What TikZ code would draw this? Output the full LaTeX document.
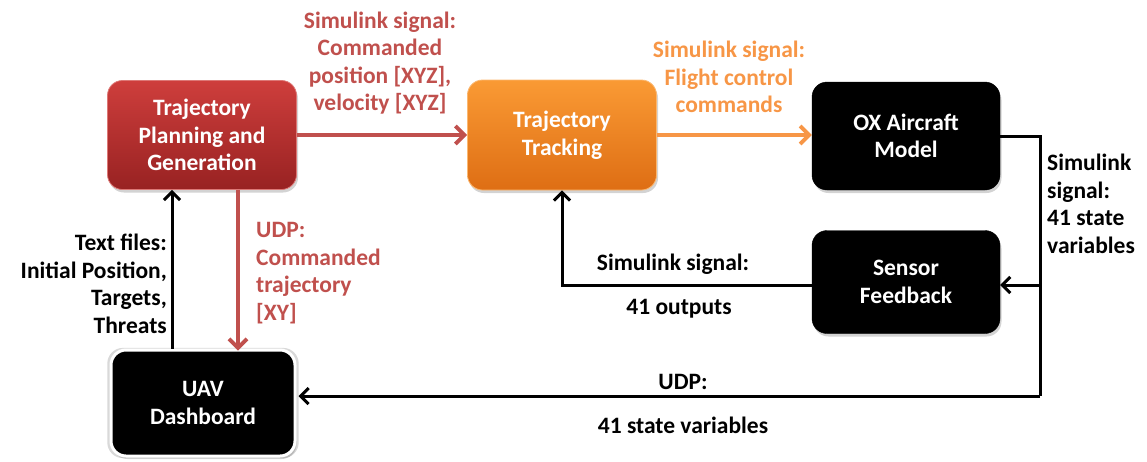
\documentclass[tikz,border=0pt]{standalone}
\usepackage{fontspec}
\setmainfont{Carlito}
\usetikzlibrary{arrows.meta,shadows,fadings}
\definecolor{redtop}{RGB}{206,62,60}
\definecolor{redbot}{RGB}{152,34,34}
\definecolor{orgtop}{RGB}{250,154,52}
\definecolor{orgbot}{RGB}{222,110,20}
\definecolor{redline}{RGB}{192,80,77}
\definecolor{orgline}{RGB}{247,150,70}
\tikzset{
  blockbase/.style={rounded corners=15pt, align=center, text=white,
    font=\fontsize{23.5}{27.5}\selectfont\bfseries, inner sep=0pt,
    drop shadow={shadow xshift=1.5pt, shadow yshift=-3pt, opacity=0.35}},
  redbox/.style={blockbase, top color=redtop, bottom color=redbot, draw=redtop!70!white, line width=0.8pt},
  orgbox/.style={blockbase, top color=orgtop, bottom color=orgbot, draw=orgtop!70!white, line width=0.8pt},
  blackbox/.style={blockbase, fill=black, draw=black},
  lbl/.style={font=\fontsize{23.5}{27.5}\selectfont\bfseries, inner sep=0pt},
  redarr/.style={draw=redline, line width=3.8pt, -{Straight Barb[length=9pt,width=18pt,line width=3.8pt]}},
  orgarr/.style={draw=orgline, line width=3.8pt, -{Straight Barb[length=9pt,width=18pt,line width=3.8pt]}},
  blkarr/.style={draw=black, line width=3pt, -{Straight Barb[length=8pt,width=16pt,line width=3pt]}},
  blkline/.style={draw=black, line width=3pt}
}
\begin{document}
\begin{tikzpicture}[x=1pt,y=-1pt]
\useasboundingbox (0,0) rectangle (1147,461);
% blocks
\node[redbox, minimum width=189pt, minimum height=109pt] (plan) at (202,135) {Trajectory\\Planning and\\Generation};
\node[orgbox, minimum width=189pt, minimum height=110pt] (track) at (562,135) {Trajectory\\Tracking};
\node[blackbox, minimum width=188pt, minimum height=108pt] (ox) at (906,136) {OX Aircraft\\Model};
\node[blackbox, minimum width=188pt, minimum height=103pt] (sensor) at (906,282) {Sensor\\Feedback};
\node[blackbox, draw=white, line width=3pt, minimum width=184pt, minimum height=106pt,
  drop shadow={shadow xshift=0pt, shadow yshift=0pt, shadow scale=1.04, opacity=0.3}] (uav) at (203,403) {UAV\\Dashboard};
% routing points
\coordinate (r1) at (1040,136);
\coordinate (r2) at (1040,285);
\coordinate (r3) at (1040,396);
\coordinate (s1) at (562,285);
% connectors
\draw[redarr] (plan.east |- 0,135) -- (track.west |- 0,135);
\draw[orgarr] (track.east |- 0,135) -- (ox.west |- 0,135);
\draw[blkline] (ox.east |- r1) -- (r1) -- (r3);
\draw[blkarr] (r2) -- (sensor.east |- r2);
\draw[blkarr] (r3) -- ([xshift=2pt]uav.east |- r3);
\draw[blkarr] (sensor.west |- s1) -- (s1) -- (track.south);
\draw[blkarr] (uav.north -| 172,0) -- (plan.south -| 172,0);
\draw[redarr] (plan.south -| 238,0) -- ([yshift=-2pt]uav.north -| 238,0);
% labels
\node[lbl, text=redline, align=center] (l1) at (380,63) {Simulink signal:\\Commanded\\position [XYZ],\\velocity [XYZ]};
\node[lbl, text=orgline, align=center] (l2) at (729,77) {Simulink signal:\\Flight control\\commands};
\node[lbl, align=left, anchor=west] (l3) at (1047,204) {Simulink\\signal:\\41 state\\variables};
\node[lbl] (l4) at (673,264) {Simulink signal:};
\node[lbl] (l5) at (679,309) {41 outputs};
\node[lbl, text=redline, align=left, anchor=west] (l6) at (256,273) {UDP:\\Commanded\\trajectory\\{[XY]}};
\node[lbl, align=right, anchor=east] (l7) at (167,284) {Text files:\\Initial Position,\\Targets,\\Threats};
\node[lbl] (l8) at (683,382) {UDP:};
\node[lbl] (l9) at (683,425) {41 state variables};
\end{tikzpicture}
\end{document}
